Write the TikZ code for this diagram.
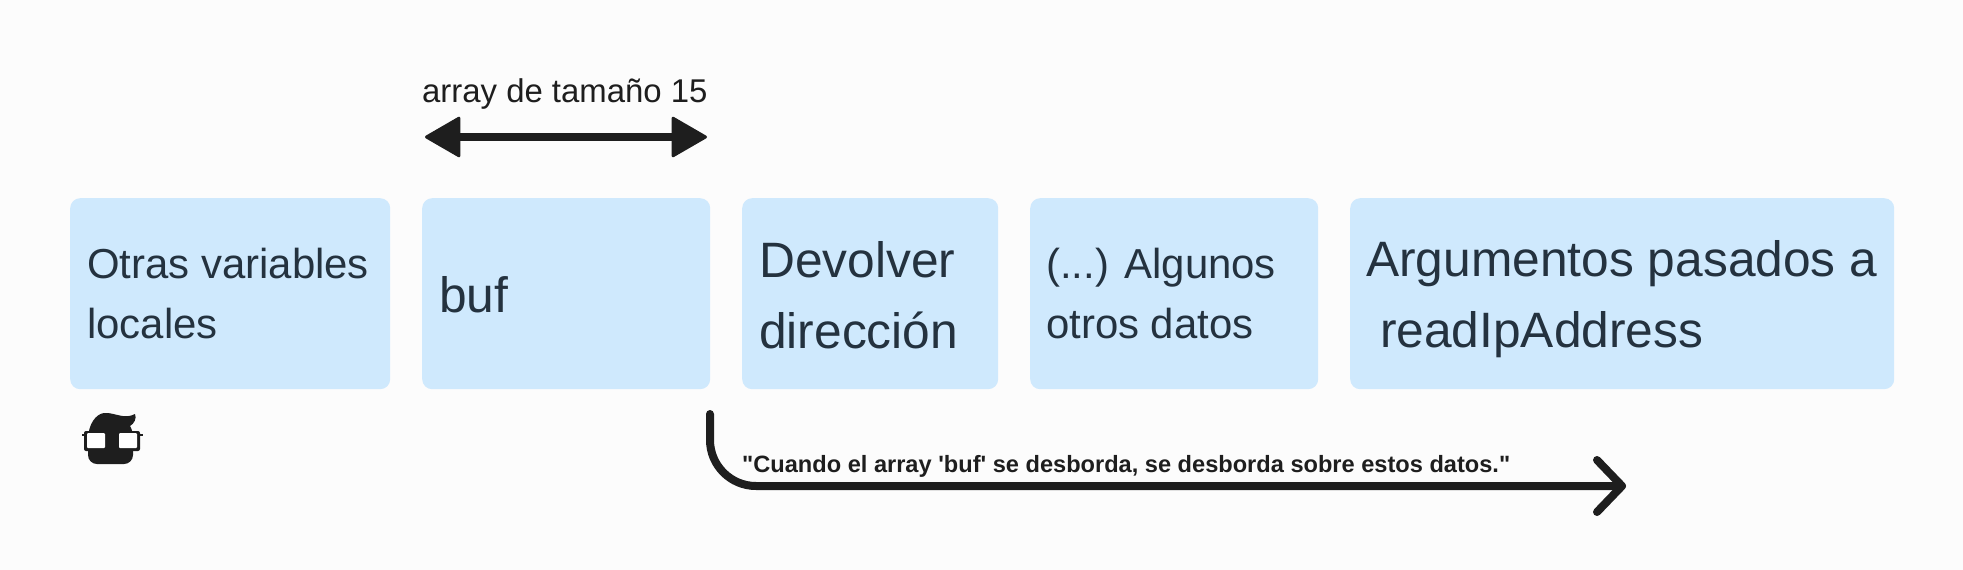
\documentclass[tikz,border=0pt]{standalone}
\usepackage{fontspec}
\newfontfamily\plainfont{Liberation Sans}
\usetikzlibrary{positioning,arrows.meta}
\definecolor{bgpage}{HTML}{FCFCFC}
\definecolor{boxblue}{HTML}{CFE9FD}
\definecolor{boxtext}{HTML}{24323F}
\definecolor{inkdark}{HTML}{1E1E1E}
\tikzset{
  block/.style={rectangle, fill=boxblue, rounded corners=10pt, inner sep=0pt, anchor=north west, minimum height=191pt},
  boxlabel/.style={anchor=base west, align=left, text=boxtext, inner sep=0pt},
  smalltext/.style={font=\plainfont\fontsize{41.9}{60}\selectfont},
  bigtext/.style={font=\plainfont\fontsize{49.7}{71}\selectfont},
  heavyline/.style={draw=inkdark, line width=8pt, line cap=round, line join=round},
  solidtip/.tip={Triangle[length=37pt,width=42pt,line width=3pt,round]}
}
\begin{document}
\begin{tikzpicture}[x=1pt, y=-1pt]
  \useasboundingbox (0,0) rectangle (1963,570);
  \fill[bgpage] (0,0) rectangle (1963,570);

  % Cajas
  \node[block, minimum width=320pt] (locals) at (70,198) {};
  \node[block, minimum width=288pt] (buf) at (422,198) {};
  \node[block, minimum width=256pt] (retaddr) at (742,198) {};
  \node[block, minimum width=288pt] (otherdata) at (1030,198) {};
  \node[block, minimum width=544pt] (args) at (1350,198) {};

  % Textos
  \node[boxlabel, smalltext] (localstext) at (87,338) {Otras variables\\locales};
  \node[boxlabel, bigtext] (buftext) at (439,312) {buf};
  \node[boxlabel, bigtext] (retaddrtext) at (759,348) {Devolver\\dirección};
  \node[boxlabel, smalltext] (otherdatatext) at (1046,338) {(...) Algunos\\otros datos};
  \node[boxlabel, bigtext] (argstext) at (1366,347) {Argumentos pasados a\\ \ readIpAddress};

  % Flecha doble
  \coordinate (sizeleft) at (425,137);
  \coordinate (sizeright) at (707,137);
  \node[text=inkdark, anchor=base west, inner sep=0pt, font=\plainfont\fontsize{32.9}{36}\selectfont] (sizelabel) at (422,102) {array de tamaño 15};
  \draw[draw=inkdark, line width=8pt, solidtip-solidtip] (sizeleft) -- (sizeright);

  % Flecha de desborde
  \coordinate (overstart) at (710,414);
  \coordinate (overend) at (1622,486);
  \draw[heavyline, rounded corners=46pt] (overstart) -- (overstart |- overend) -- (overend);
  \coordinate (headtop) at (1597,460);
  \coordinate (headbot) at (1597,512);
  \draw[heavyline] (headtop) -- (overend) -- (headbot);
  \node[text=inkdark, anchor=base west, inner sep=0pt, font=\plainfont\bfseries\fontsize{23.6}{28}\selectfont] (overlabel) at (742,472) {"Cuando el array 'buf' se desborda, se desborda sobre estos datos."};

  % Logo
  \fill[inkdark, rounded corners=9pt] (88,436) rectangle (133,464);
  \fill[inkdark] (88,440) .. controls (88,424) and (96,414) .. (104,413) .. controls (114,412) and (124,420) .. (135,414) .. controls (137,418) and (134,424) .. (130,426) .. controls (132,429) and (133,433) .. (133,440) -- cycle;
  \draw[inkdark, line width=2.5pt] (82,435) -- (143,435);
  \fill[inkdark, rounded corners=2pt] (84,431) rectangle (140,451);
  \fill[white, rounded corners=1pt] (87,433) rectangle (105,448);
  \fill[white, rounded corners=1pt] (119,433) rectangle (137,448);
\end{tikzpicture}
\end{document}
